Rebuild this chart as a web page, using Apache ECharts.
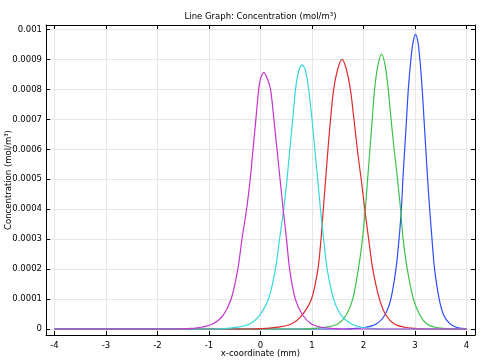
<!DOCTYPE html>
<html><head><meta charset="utf-8">
<script src="https://cdn.jsdelivr.net/npm/echarts@6/dist/echarts.min.js"></script>
<style>html,body{margin:0;padding:0;background:#fff}#c{width:483px;height:363px}</style>
</head><body><div id="c"></div>
<script>
const titleText = 'Line Graph: Concentration (mol/m³)';
const xAxisName = 'x-coordinate (mm)';
const yAxisName = 'Concentration (mol/m³)';
const xTickLabels = [-4, -3, -2, -1, 0, 1, 2, 3, 4];
const yTickLabels = ['0', '0.0001', '0.0002', '0.0003', '0.0004', '0.0005', '0.0006', '0.0007', '0.0008', '0.0009', '0.001'];

const blueX = [-4, 1.6, 1.85, 2.05, 2.25, 2.41, 2.53, 2.63, 2.69, 2.735, 2.765, 2.8, 2.835, 2.87, 2.92, 2.965, 3.01, 3.055, 3.095, 3.14, 3.175, 3.21, 3.245, 3.285, 3.33, 3.38, 3.47, 3.56, 3.68, 3.8, 3.92, 4];
const blueY = [0, 0, 0.000002, 0.000006, 0.000017, 0.000045, 0.0001, 0.0002, 0.0003, 0.0004, 0.0005, 0.0006, 0.0007, 0.0008, 0.0009, 0.00096, 0.000984, 0.00096, 0.0009, 0.0008, 0.0007, 0.0006, 0.0005, 0.0004, 0.0003, 0.0002, 0.0001, 0.000045, 0.000017, 0.000006, 0.000002, 0.000001];

const greenX = [-4, 0.8, 1.05, 1.27, 1.5, 1.66, 1.79, 1.9, 1.98, 2.035, 2.08, 2.125, 2.17, 2.215, 2.28, 2.35, 2.42, 2.48, 2.535, 2.595, 2.66, 2.72, 2.77, 2.85, 2.97, 3.1, 3.23, 3.39, 3.55, 3.75, 4];
const greenY = [0, 0, 0.000002, 0.000006, 0.000017, 0.000045, 0.0001, 0.0002, 0.0003, 0.0004, 0.0005, 0.0006, 0.0007, 0.0008, 0.00088, 0.000918, 0.00088, 0.0008, 0.0007, 0.0006, 0.0005, 0.0004, 0.0003, 0.0002, 0.0001, 0.000045, 0.000017, 0.000006, 0.000002, 0, 0];

const redX = [-4, -0.2, 0.1, 0.34, 0.6, 0.8, 0.99, 1.115, 1.175, 1.22, 1.265, 1.31, 1.36, 1.42, 1.5, 1.585, 1.665, 1.745, 1.815, 1.88, 1.955, 2.025, 2.1, 2.18, 2.31, 2.44, 2.6, 2.8, 3.0, 3.2, 4];
const redY = [0, 0, 0.000002, 0.000006, 0.000017, 0.000045, 0.0001, 0.0002, 0.0003, 0.0004, 0.0005, 0.0006, 0.0007, 0.0008, 0.000868, 0.0009, 0.000868, 0.0008, 0.0007, 0.0006, 0.0005, 0.0004, 0.0003, 0.0002, 0.0001, 0.000045, 0.000017, 0.000006, 0.000002, 0, 0];

const cyanX = [-4, -0.9, -0.65, -0.44, -0.21, -0.02, 0.155, 0.29, 0.37, 0.45, 0.515, 0.57, 0.625, 0.68, 0.74, 0.805, 0.87, 0.935, 1.0, 1.055, 1.11, 1.165, 1.225, 1.295, 1.42, 1.57, 1.77, 1.96, 2.15, 2.4, 4];
const cyanY = [0, 0, 0.000002, 0.000006, 0.000017, 0.000045, 0.0001, 0.0002, 0.0003, 0.0004, 0.0005, 0.0006, 0.0007, 0.0008, 0.00086, 0.000882, 0.000865, 0.0008, 0.0007, 0.0006, 0.0005, 0.0004, 0.0003, 0.0002, 0.0001, 0.000045, 0.000017, 0.000006, 0.000002, 0, 0];

const magentaX = [-4, -1.6, -1.35, -1.15, -0.93, -0.73, -0.57, -0.44, -0.36, -0.27, -0.2, -0.145, -0.09, -0.035, 0.0, 0.065, 0.13, 0.195, 0.26, 0.32, 0.38, 0.44, 0.505, 0.565, 0.676, 0.825, 0.99, 1.18, 1.38, 1.6, 4];
const magentaY = [0, 0, 0.000002, 0.000006, 0.000017, 0.000045, 0.0001, 0.0002, 0.0003, 0.0004, 0.0005, 0.0006, 0.0007, 0.0008, 0.000835, 0.000857, 0.000837, 0.0008, 0.0007, 0.0006, 0.0005, 0.0004, 0.0003, 0.0002, 0.0001, 0.000045, 0.000017, 0.000006, 0.000002, 0, 0];

const FONT = 'DejaVu Sans';
const FS = 8.5;
const zip = (xs, ys) => xs.map((x, i) => [x, ys[i]]);

function xFmt(v) {
  const r = Math.round(v);
  if (Math.abs(v - r) > 1e-6) return '';
  return xTickLabels.indexOf(r) >= 0 ? String(r) : '';
}
function yFmt(v) {
  const k = Math.round(v / 0.0001);
  if (Math.abs(v - k * 0.0001) > 1e-9) return '';
  return yTickLabels[k] !== undefined ? yTickLabels[k] : '';
}

const frameLine = { show: true, onZero: false, lineStyle: { color: '#000', width: 1 } };
const tick = { show: true, inside: true, length: 4, lineStyle: { color: '#000', width: 1 } };
const xMin = -4.165, xMax = 4.165, yMin = -0.00002, yMax = 0.001015;

function mk(name, xs, ys, color) {
  return { type: 'line', name, data: zip(xs, ys), showSymbol: false, symbol: 'none',
    smooth: 0.3, lineStyle: { color, width: 1.2 }, itemStyle: { color },
    xAxisIndex: 0, yAxisIndex: 0, animation: false };
}

const chart = echarts.init(document.getElementById('c'), null, { renderer: 'canvas' });
chart.setOption({
  animation: false,
  backgroundColor: '#fff',
  title: { text: titleText, left: 260.5, top: 12, padding: 0, textAlign: 'center', textVerticalAlign: 'top',
    textStyle: { fontFamily: FONT, fontSize: FS, fontWeight: 'normal', color: '#000' } },
  grid: { left: 46, right: 8, top: 25, bottom: 28, containLabel: false, outerBoundsMode: 'none' },
  xAxis: [
    { type: 'value', position: 'bottom', min: xMin, max: xMax, splitNumber: 8, minInterval: 1, maxInterval: 1,
      axisLine: frameLine, axisTick: tick,
      axisLabel: { formatter: xFmt, fontFamily: FONT, fontSize: FS, color: '#000', margin: 6, showMinLabel: false, showMaxLabel: false },
      splitLine: { show: true, lineStyle: { color: '#e6e6e6', width: 1 } },
      name: xAxisName, nameLocation: 'middle', nameGap: 14, nameMoveOverlap: false,
      nameTextStyle: { fontFamily: FONT, fontSize: FS, color: '#000' } },
    { type: 'value', position: 'top', min: xMin, max: xMax, splitNumber: 8, minInterval: 1, maxInterval: 1,
      axisLine: frameLine, axisTick: tick, axisLabel: { show: false }, splitLine: { show: false } }
  ],
  yAxis: [
    { type: 'value', position: 'left', min: yMin, max: yMax, splitNumber: 10, minInterval: 0.0001, maxInterval: 0.0001,
      axisLine: frameLine, axisTick: tick,
      axisLabel: { formatter: yFmt, fontFamily: FONT, fontSize: FS, color: '#000', margin: 4, showMinLabel: false, showMaxLabel: false },
      splitLine: { show: true, lineStyle: { color: '#e6e6e6', width: 1 } },
      name: yAxisName, nameLocation: 'middle', nameGap: 33, nameMoveOverlap: false,
      nameTextStyle: { fontFamily: FONT, fontSize: FS, color: '#000' } },
    { type: 'value', position: 'right', min: yMin, max: yMax, splitNumber: 10, minInterval: 0.0001, maxInterval: 0.0001,
      axisLine: frameLine, axisTick: tick, axisLabel: { show: false }, splitLine: { show: false } }
  ],
  series: [
    mk('blue', blueX, blueY, '#2e4dff'),
    mk('green', greenX, greenY, '#3cc24a'),
    mk('red', redX, redY, '#dd2a2a'),
    mk('cyan', cyanX, cyanY, '#33d9d9'),
    mk('magenta', magentaX, magentaY, '#c633d0')
  ]
});
</script>
</body></html>
